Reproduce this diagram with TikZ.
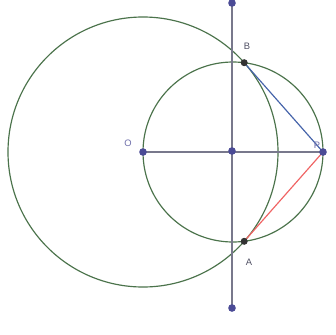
\documentclass[tikz,border=0pt]{standalone}
\usepackage{fontspec}
\setmainfont{Liberation Sans}
\definecolor{circ}{RGB}{75,115,75}
\definecolor{lin}{RGB}{120,120,140}
\definecolor{pt}{RGB}{75,75,150}
\definecolor{tanb}{RGB}{70,100,170}
\definecolor{tana}{RGB}{240,100,100}
\definecolor{lbl}{RGB}{80,80,100}
\tikzset{
  circline/.style={draw=circ, line width=1pt},
  axisline/.style={draw=lin, line width=1.6pt},
  freept/.style={circle, fill=pt, inner sep=0pt, minimum size=6.5pt},
  fixpt/.style={circle, fill=black!80, inner sep=0pt, minimum size=6pt},
  lab/.style={font=\fontsize{8}{9}\selectfont, text=lbl, inner sep=0pt}
}
\begin{document}
\begin{tikzpicture}[x=0.03cm, y=-0.03cm]
\useasboundingbox (0,0) rectangle (336,334);
\fill[white] (0,0) rectangle (336,334);
% circles
\draw[circline] (143,152) circle [radius=135];
\draw[circline] (233,152) circle [radius=90];
% lines
\coordinate (Otop) at (232,3);
\coordinate (Obot) at (232,308);
\draw[axisline] (Otop) -- (Obot);
\coordinate (Oc) at (143,152);
\coordinate (Pc) at (323,152);
\draw[axisline] (Oc) -- (Pc);
% tangent points
\coordinate (Bc) at (244.2,62.7);
\coordinate (Ac) at (244.2,241.3);
\draw[draw=tanb, line width=1pt] (Bc) -- (Pc);
\draw[draw=tana, line width=1pt] (Ac) -- (Pc);
% points
\node[freept] (T) at (Otop) {};
\node[freept] (Bt) at (Obot) {};
\node[freept] (O) at (Oc) {};
\node[freept] (M) at (232,151) {};
\node[freept] (P) at (Pc) {};
\node[fixpt] (B) at (Bc) {};
\node[fixpt] (A) at (Ac) {};
% labels
\node[lab, text=pt!80] at (128,143) {O};
\node[lab] at (247,46) {B};
\node[lab] at (249,262) {A};
\node[lab, text=pt!80] at (317,145) {P};
\end{tikzpicture}
\end{document}
